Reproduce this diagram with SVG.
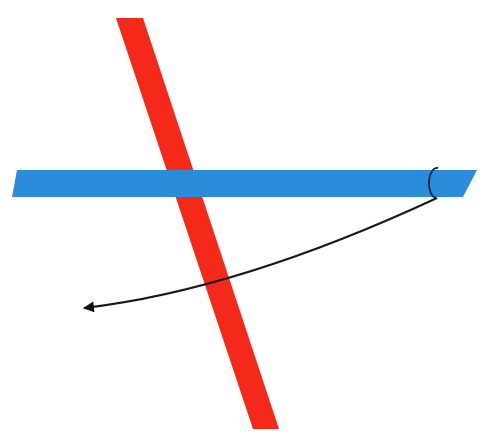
<svg xmlns="http://www.w3.org/2000/svg" width="485" height="438" viewBox="0 0 485 438">
<defs>
<style>
.red{fill:#f5291a}
.blue{fill:#2b8cd9}
.curve{fill:none;stroke:#1a1a1a;stroke-width:2}
.ring{fill:none;stroke:#14233a;stroke-width:1.8}
</style>
<marker id="ah" viewBox="0 0 10 10" refX="9" refY="5" markerWidth="12" markerHeight="11" markerUnits="userSpaceOnUse" orient="auto">
<path d="M0,0 L10,5 L0,10 z" fill="#111"/>
</marker>
</defs>
<rect width="485" height="438" fill="#fff"/>
<g id="red-band"><polygon class="red" points="116,18 143,18 279,429 253,429"/></g>
<g id="blue-band"><polygon class="blue" points="17,170 477,170 463,197 12,197"/></g>
<g id="connectors">
<path class="ring" d="M438,168 A8,15 0 0 0 436,198"/>
<path class="curve" d="M437,198 Q239,290 84,308" marker-end="url(#ah)"/>
</g>
</svg>
